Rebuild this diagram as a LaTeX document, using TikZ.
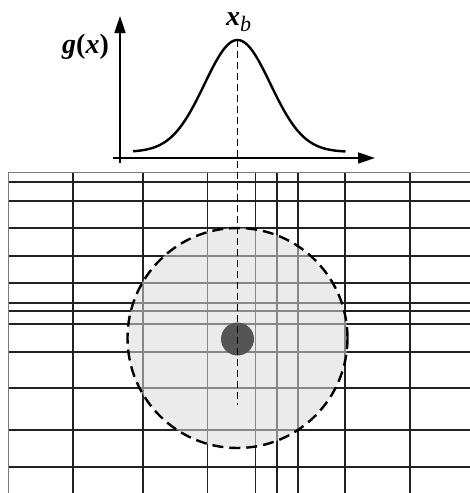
\documentclass[tikz,border=0pt]{standalone}
\usepackage{fontspec}
\setmainfont{Liberation Serif}
\usetikzlibrary{arrows.meta}
\definecolor{gridc}{HTML}{222222}
\definecolor{edgec}{HTML}{7A7A7A}
\definecolor{fillc}{HTML}{DADADA}
\definecolor{dotc}{HTML}{555555}
\tikzset{
  gridline/.style={draw=gridc, line width=1.3pt},
  edgeline/.style={draw=edgec, line width=1.3pt},
  axisline/.style={draw=black, line width=1.6pt, -{Triangle[length=17pt,width=11pt]}},
  curveline/.style={draw=black, line width=2.4pt},
  dashedcircle/.style={draw=black, line width=2.4pt, dash pattern=on 11pt off 6pt},
  centerline/.style={draw=black, line width=1.4pt, dash pattern=on 7pt off 4pt},
  lbl/.style={inner sep=0pt, font=\fontsize{28}{32}\selectfont\bfseries\itshape}
}
\begin{document}
\begin{tikzpicture}[x=1pt, y=-1pt]
\useasboundingbox (0,0) rectangle (470,493);
% grid
\foreach \xx in {73,143,207.5,255.5,277,298,345,410}
  \draw[gridline] (\xx,172.7) -- (\xx,493);
\foreach \yy in {182,201,228,256,283,303,311,324,352,388,430,467}
  \draw[gridline] (8.5,\yy) -- (470,\yy);
\draw[edgeline] (8.5,493) -- (8.5,172.7) -- (470,172.7);
% influence region
\fill[fillc, fill opacity=0.55] (237.5,338) circle[radius=110];
\draw[dashedcircle] (237.5,338) circle[radius=110];
\node[circle, fill=dotc, minimum size=33pt, inner sep=0pt] (pt) at (237.5,339) {};
% axes
\coordinate (yb) at (120,163);
\coordinate (yt) at (120,16);
\coordinate (xl) at (113,158);
\coordinate (xr) at (375,158);
\draw[axisline] (yb) -- (yt);
\draw[axisline] (xl) -- (xr);
% gaussian
\draw[curveline] plot[domain=-104.5:108, samples=120] ({237.5+\x}, {152-112*exp(-0.5*(\x/33)*(\x/33))});
\coordinate (peak) at (237.5,40);
\coordinate (lend) at (237.5,405);
\draw[centerline] (peak) -- (lend);
% labels
\node[lbl, anchor=base west] (gx) at (62,53) {g\textup{(}x\textup{)}};
\node[lbl, anchor=base west] (xb) at (226,25) {x\textsubscript{\normalfont\itshape\fontsize{22}{26}\selectfont b}};
\end{tikzpicture}
\end{document}
